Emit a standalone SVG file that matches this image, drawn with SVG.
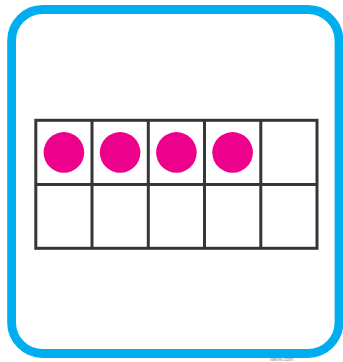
<svg xmlns="http://www.w3.org/2000/svg" width="343" height="362" viewBox="0 0 343 362">
<style>
.frame{fill:#fff;stroke:#00aeef;stroke-width:8.8}
.cell{fill:#fff;stroke:#363636;stroke-width:3}
.dot{fill:#ec008c}
.credit{font-family:"Liberation Sans",Arial,sans-serif;font-size:5px;fill:#7a8a99}
</style>
<rect width="343" height="362" fill="#fff"/>
<g id="card"><rect class="frame" x="11.6" y="9.5" width="327.4" height="344" rx="31"/></g>
<g id="grid">
<rect class="cell" x="35.8" y="120.3" width="281.2" height="128"/>
<path d="M92 120.3V248.3M148.3 120.3V248.3M204.5 120.3V248.3M260.8 120.3V248.3M35.8 184.4H317" fill="none" stroke="#363636" stroke-width="3"/>
</g>
<g id="counters">
<circle class="dot" cx="63.9" cy="152.4" r="20.3"/>
<circle class="dot" cx="120.1" cy="152.4" r="20.3"/>
<circle class="dot" cx="176.4" cy="152.4" r="20.3"/>
<circle class="dot" cx="232.6" cy="152.4" r="20.3"/>
</g>
<text class="credit" x="270" y="360.5">twinkl.com</text>
</svg>
